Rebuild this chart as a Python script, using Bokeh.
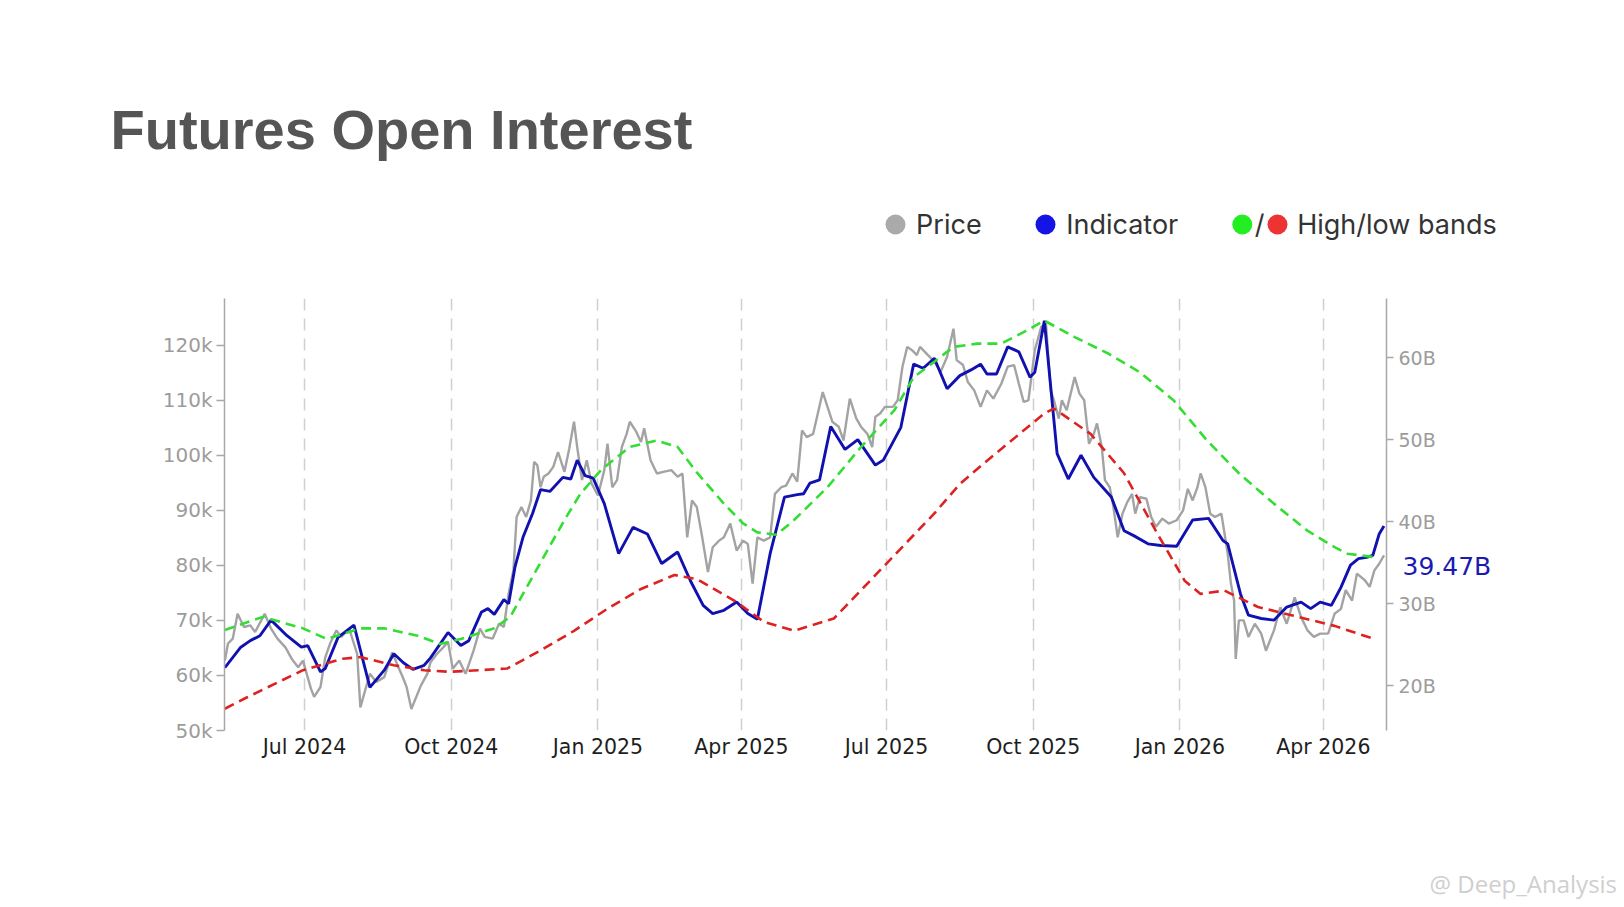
import pandas as pd
from bokeh.plotting import figure
from bokeh.layouts import column, row
from bokeh.models import (ColumnDataSource, Range1d, LinearAxis, FixedTicker,
                          DatetimeTickFormatter, CustomJSTickFormatter)
from bokeh.core.properties import value
from bokeh.embed import file_html
from bokeh.resources import INLINE

# ---------------- data ----------------
price_dates = [
    "2024-05-12","2024-05-14","2024-05-17","2024-05-20","2024-05-24","2024-05-28","2024-05-31","2024-06-06","2024-06-10","2024-06-14",
    "2024-06-19","2024-06-23","2024-06-27","2024-06-30","2024-07-05","2024-07-07","2024-07-11","2024-07-14","2024-07-17","2024-07-21",
    "2024-07-24","2024-07-29","2024-08-03","2024-08-05","2024-08-08","2024-08-11","2024-08-15","2024-08-20","2024-08-25","2024-08-28",
    "2024-09-01","2024-09-03","2024-09-06","2024-09-12","2024-09-16","2024-09-18","2024-09-22","2024-09-26","2024-09-29","2024-10-02",
    "2024-10-06","2024-10-10","2024-10-15","2024-10-19","2024-10-22","2024-10-27","2024-10-31","2024-11-03","2024-11-06","2024-11-09",
    "2024-11-11","2024-11-14","2024-11-17","2024-11-20","2024-11-22","2024-11-24","2024-11-26","2024-11-28","2024-12-01","2024-12-04",
    "2024-12-07","2024-12-11","2024-12-14","2024-12-17","2024-12-19","2024-12-22","2024-12-25","2024-12-28","2025-01-01","2025-01-05",
    "2025-01-07","2025-01-10","2025-01-13","2025-01-16","2025-01-19","2025-01-21","2025-01-25","2025-01-28","2025-01-30","2025-02-03",
    "2025-02-07","2025-02-11","2025-02-16","2025-02-20","2025-02-23","2025-02-26","2025-03-01","2025-03-04","2025-03-07","2025-03-11",
    "2025-03-14","2025-03-18","2025-03-21","2025-03-25","2025-03-29","2025-04-02","2025-04-05","2025-04-08","2025-04-11","2025-04-15",
    "2025-04-19","2025-04-22","2025-04-26","2025-04-29","2025-05-03","2025-05-06","2025-05-09","2025-05-12","2025-05-16","2025-05-22",
    "2025-05-25","2025-05-28","2025-06-01","2025-06-04","2025-06-08","2025-06-12","2025-06-15","2025-06-19","2025-06-22","2025-06-24",
    "2025-06-27","2025-06-30","2025-07-05","2025-07-08","2025-07-11","2025-07-14","2025-07-17","2025-07-20","2025-07-22","2025-07-27",
    "2025-07-31","2025-08-04","2025-08-08","2025-08-12","2025-08-14","2025-08-18","2025-08-21","2025-08-25","2025-08-29","2025-09-02",
    "2025-09-06","2025-09-11","2025-09-15","2025-09-19","2025-09-22","2025-09-25","2025-09-28","2025-10-02","2025-10-06","2025-10-09",
    "2025-10-12","2025-10-14","2025-10-17","2025-10-19","2025-10-22","2025-10-27","2025-10-30","2025-11-02","2025-11-05","2025-11-08",
    "2025-11-10","2025-11-13","2025-11-15","2025-11-18","2025-11-20","2025-11-23","2025-11-26","2025-11-29","2025-12-02","2025-12-04",
    "2025-12-07","2025-12-11","2025-12-14","2025-12-17","2025-12-21","2025-12-25","2025-12-30","2026-01-03","2026-01-06","2026-01-09",
    "2026-01-12","2026-01-14","2026-01-17","2026-01-20","2026-01-23","2026-01-27","2026-01-29","2026-01-31","2026-02-02","2026-02-04",
    "2026-02-05","2026-02-07","2026-02-10","2026-02-13","2026-02-17","2026-02-21","2026-02-24","2026-03-01","2026-03-05","2026-03-09",
    "2026-03-14","2026-03-18","2026-03-22","2026-03-26","2026-03-30","2026-04-04","2026-04-08","2026-04-12","2026-04-15","2026-04-19",
    "2026-04-22","2026-04-27","2026-04-30","2026-05-03","2026-05-06","2026-05-09"]
price_k = [
    62.7, 65.8, 66.7, 71.2, 68.8, 69.1, 67.9, 71.2, 68.5, 66.7,
    65.1, 63.0, 61.5, 62.7, 57.6, 56.1, 57.9, 63.3, 65.8, 68.2,
    67.0, 68.5, 63.9, 54.2, 57.3, 60.3, 58.8, 59.7, 64.2, 62.1,
    59.4, 57.9, 53.9, 58.2, 60.3, 62.4, 63.9, 65.1, 66.1, 61.2,
    62.7, 60.3, 64.5, 68.5, 67.0, 66.7, 69.4, 68.8, 74.9, 79.1,
    88.8, 90.6, 88.8, 91.8, 98.8, 98.2, 94.2, 96.1, 96.7, 97.9,
    100.6, 97.0, 101.2, 106.1, 101.5, 95.5, 99.1, 94.9, 92.7, 97.3,
    102.1, 94.2, 95.5, 101.5, 103.9, 106.1, 104.3, 102.4, 104.9, 99.1,
    96.7, 97.0, 97.3, 96.1, 96.7, 85.1, 91.8, 90.6, 85.8, 78.8,
    83.3, 84.5, 85.1, 87.6, 82.7, 84.5, 83.9, 76.7, 85.1, 84.5,
    85.1, 93.0, 94.2, 94.5, 96.7, 95.2, 104.5, 103.3, 103.9, 111.5,
    108.8, 106.1, 105.2, 102.7, 110.3, 106.7, 105.2, 103.9, 101.5, 107.0,
    107.6, 108.8, 108.8, 110.0, 116.1, 119.7, 119.1, 118.2, 119.7, 118.2,
    117.0, 115.2, 117.9, 123.0, 117.3, 116.4, 113.3, 111.8, 108.8, 111.8,
    110.3, 113.0, 116.1, 116.4, 113.0, 109.7, 110.0, 119.1, 123.3, 123.9,
    111.8, 110.0, 106.7, 110.0, 108.2, 114.2, 111.2, 110.0, 102.1, 103.9,
    105.8, 101.5, 95.5, 94.2, 91.2, 85.1, 89.4, 91.5, 93.0, 89.4,
    92.4, 92.1, 88.8, 87.0, 88.5, 87.6, 88.2, 90.0, 93.9, 91.8,
    94.2, 96.7, 94.2, 89.4, 88.8, 89.4, 85.8, 82.1, 76.7, 73.6,
    63.0, 70.0, 70.0, 67.0, 69.4, 67.6, 64.5, 68.2, 72.4, 69.4,
    74.2, 70.6, 68.2, 67.0, 67.6, 67.6, 71.2, 72.1, 75.5, 73.6,
    78.5, 77.3, 76.1, 79.1, 80.3, 81.8]

indicator_dates = [
    "2024-05-12","2024-05-22","2024-05-28","2024-06-03","2024-06-10","2024-06-20","2024-06-29","2024-07-03","2024-07-11","2024-07-14",
    "2024-07-22","2024-08-01","2024-08-11","2024-08-20","2024-08-26","2024-09-01","2024-09-07","2024-09-14","2024-09-18","2024-09-29",
    "2024-10-07","2024-10-12","2024-10-20","2024-10-24","2024-10-28","2024-11-03","2024-11-06","2024-11-10","2024-11-15","2024-11-21",
    "2024-11-26","2024-12-02","2024-12-10","2024-12-15","2024-12-19","2024-12-24","2024-12-29","2025-01-05","2025-01-14","2025-01-23",
    "2025-02-01","2025-02-10","2025-02-20","2025-02-28","2025-03-08","2025-03-14","2025-03-21","2025-03-29","2025-04-05","2025-04-11",
    "2025-04-19","2025-04-28","2025-05-06","2025-05-10","2025-05-14","2025-05-20","2025-05-27","2025-06-05","2025-06-13","2025-06-24",
    "2025-06-29","2025-07-10","2025-07-18","2025-07-24","2025-07-31","2025-08-08","2025-08-16","2025-08-23","2025-08-29","2025-09-02",
    "2025-09-08","2025-09-15","2025-09-22","2025-09-29","2025-10-02","2025-10-08","2025-10-16","2025-10-23","2025-10-31","2025-11-08",
    "2025-11-19","2025-11-27","2025-12-03","2025-12-12","2025-12-20","2025-12-30","2026-01-09","2026-01-19","2026-01-28","2026-01-31",
    "2026-02-08","2026-02-13","2026-02-21","2026-03-01","2026-03-09","2026-03-18","2026-03-24","2026-03-30","2026-04-06","2026-04-12",
    "2026-04-18","2026-04-23","2026-04-29","2026-05-02","2026-05-06","2026-05-09"]
indicator_b = [
    22.2, 24.7, 25.5, 26.1, 28.0, 26.1, 24.7, 24.9, 21.7, 22.1,
    25.9, 27.4, 19.8, 21.9, 23.9, 22.8, 22.0, 22.5, 23.4, 26.5,
    24.9, 25.5, 29.0, 29.4, 28.7, 30.5, 30.0, 34.5, 38.1, 41.0,
    43.9, 43.7, 45.4, 45.2, 47.5, 45.6, 45.3, 42.2, 36.1, 39.3,
    38.5, 34.9, 36.3, 32.8, 29.8, 28.8, 29.2, 30.2, 28.8, 28.1,
    36.1, 43.0, 43.3, 43.4, 44.7, 45.1, 51.6, 48.8, 50.0, 46.9,
    47.5, 51.5, 59.2, 58.7, 59.9, 56.2, 57.8, 58.5, 59.2, 58.0,
    58.0, 61.3, 60.7, 57.6, 58.2, 64.5, 48.3, 45.2, 48.1, 45.4,
    43.0, 38.9, 38.3, 37.3, 37.1, 37.0, 40.2, 40.4, 37.7, 37.3,
    31.2, 28.6, 28.2, 28.0, 29.6, 30.2, 29.4, 30.2, 29.8, 32.0,
    34.7, 35.5, 35.7, 35.9, 38.5, 39.47]

high_band_dates = [
    "2024-05-12","2024-06-05","2024-06-30","2024-07-15","2024-08-05","2024-08-20","2024-09-10","2024-09-24","2024-10-07","2024-10-28",
    "2024-11-07","2024-11-15","2024-11-28","2024-12-11","2024-12-21","2025-01-03","2025-01-21","2025-02-07","2025-02-20","2025-03-04",
    "2025-03-21","2025-04-02","2025-04-11","2025-04-23","2025-05-04","2025-05-25","2025-06-15","2025-07-06","2025-07-18","2025-07-31",
    "2025-08-12","2025-08-27","2025-09-11","2025-09-25","2025-10-08","2025-10-27","2025-11-17","2025-12-07","2025-12-28","2026-01-18",
    "2026-02-07","2026-03-01","2026-03-22","2026-04-08","2026-04-16","2026-05-02"]
high_band_b = [
    26.8, 28.4, 27.0, 25.7, 27.0, 27.0, 26.1, 25.1, 25.7, 27.0,
    28.4, 31.2, 35.7, 40.2, 43.4, 46.3, 49.1, 49.9, 49.1, 46.0,
    42.2, 39.8, 38.7, 38.4, 40.2, 44.2, 49.1, 53.6, 57.6, 59.5,
    61.3, 61.7, 61.7, 63.1, 64.5, 62.5, 60.5, 58.2, 54.8, 49.9,
    45.9, 42.2, 38.9, 36.9, 36.1, 35.7]

low_band_dates = [
    "2024-05-12","2024-05-26","2024-06-30","2024-07-25","2024-08-05","2024-08-26","2024-09-14","2024-09-30","2024-11-05","2024-11-26",
    "2024-12-17","2025-01-07","2025-01-28","2025-02-18","2025-03-04","2025-03-29","2025-04-15","2025-05-04","2025-05-29","2025-07-01",
    "2025-07-31","2025-08-16","2025-08-31","2025-10-08","2025-10-14","2025-11-06","2025-11-27","2025-12-18","2026-01-04","2026-01-14",
    "2026-01-29","2026-02-19","2026-03-12","2026-04-08","2026-05-03"]
low_band_b = [
    17.2, 18.6, 21.9, 23.3, 23.5, 22.5, 21.9, 21.7, 22.1, 24.3,
    26.7, 29.4, 31.8, 33.5, 33.0, 30.2, 27.8, 26.7, 28.2, 34.9,
    41.0, 44.6, 47.1, 53.2, 53.8, 50.7, 45.9, 38.5, 32.8, 31.2,
    31.6, 29.6, 28.6, 27.3, 25.7]

quarter_ticks = ["2024-07-01", "2024-10-01", "2025-01-01", "2025-04-01",
                 "2025-07-01", "2025-10-01", "2026-01-01", "2026-04-01"]
price_ticks = [50, 60, 70, 80, 90, 100, 110, 120]
oi_ticks = [20, 30, 40, 50, 60]

title_text = "Futures Open Interest"
legend_names = ["Price", "Indicator", "/", "High/low bands"]
legend_colors = ["#aaaaaa", "#1414e6", "#22ee22", "#ee3333"]
watermark = "@ Deep_Analysis"

# ---------------- layout sizes ----------------
FW = 1620
HEAD_H, MAIN_H, FOOT_H = 250, 520, 134
RIGHT_BORDER = 52
MAIN_W = 1386 + RIGHT_BORDER
SIDE_W = FW - MAIN_W
SIDE_SHIFT = 38   # pull the value label back over the right axis column


def ms(d):
    return pd.Timestamp(d).value / 1e6


def blank(width, height, xr, yr, **kw):
    f = figure(width=width, height=height, x_range=xr, y_range=yr,
               output_backend="svg", toolbar_location=None,
               x_axis_location=None, y_axis_location=None, min_border=0, **kw)
    f.grid.visible = False
    f.outline_line_color = None
    f.background_fill_color = "white"
    f.border_fill_color = "white"
    return f


# ---------------- header: title + legend ----------------
head = blank(FW, HEAD_H, Range1d(0, FW), Range1d(HEAD_H, 0))
head.text(x=[110], y=[129], text=[title_text], text_font=value("Liberation Sans"),
          text_font_style="bold", text_font_size="56px", text_color="#555555",
          text_align="left", text_baseline="middle")
LY = 224
head.scatter(x=[895, 1045, 1241.8, 1277], y=[LY] * 4, size=20,
             fill_color=legend_colors, line_color=None, marker="circle")
head.text(x=[915.6, 1065.7, 1296.7], y=[LY] * 3,
          text=[legend_names[0], legend_names[1], legend_names[3]],
          text_font=value("Inter"), text_font_size="27px", text_color="#333333",
          text_align="left", text_baseline="middle")
head.text(x=[1259], y=[LY], text=[legend_names[2]], text_font=value("Inter"),
          text_font_size="27px", text_color="#333333",
          text_align="center", text_baseline="middle")

# ---------------- main chart ----------------
p = figure(width=MAIN_W, height=MAIN_H, x_axis_type="datetime",
           output_backend="svg", toolbar_location=None,
           x_range=Range1d(pd.Timestamp("2024-05-11 19:00"), pd.Timestamp("2026-05-10 14:00")),
           y_range=Range1d(50, 128.49),
           min_border_left=224, min_border_right=RIGHT_BORDER,
           min_border_top=48, min_border_bottom=40)
p.extra_y_ranges = {"oi": Range1d(14.55, 67.2)}
p.outline_line_color = None
p.background_fill_color = "white"
p.border_fill_alpha = 0

xa = p.xaxis[0]
xa.ticker = FixedTicker(ticks=[ms(d) for d in quarter_ticks])
xa.formatter = DatetimeTickFormatter(days="%b %Y", months="%b %Y", years="%b %Y")
xa.axis_line_color = None
xa.major_tick_line_color = None
xa.minor_tick_line_color = None
xa.major_tick_out = 0
xa.major_tick_in = 0
xa.major_label_standoff = 4
xa.major_label_text_font = "DejaVu Sans"
xa.major_label_text_font_size = "20.5px"
xa.major_label_text_color = "#1e1e1e"

ya = p.yaxis[0]
ya.ticker = FixedTicker(ticks=price_ticks)
ya.formatter = CustomJSTickFormatter(code="return tick.toFixed(0) + 'k';")
ya.axis_line_color = "#a8a8a8"
ya.axis_line_width = 1.5
ya.major_tick_line_color = "#a8a8a8"
ya.major_tick_line_width = 1.5
ya.major_tick_out = 8
ya.major_tick_in = 0
ya.minor_tick_line_color = None
ya.major_label_standoff = 4
ya.major_label_text_font = "DejaVu Sans"
ya.major_label_text_font_size = "20px"
ya.major_label_text_color = "#9c9c9c"

ra = LinearAxis(y_range_name="oi", ticker=FixedTicker(ticks=oi_ticks),
                formatter=CustomJSTickFormatter(code="return tick.toFixed(0) + 'B';"))
ra.axis_line_color = "#a8a8a8"
ra.axis_line_width = 1.5
ra.major_tick_line_color = "#a8a8a8"
ra.major_tick_line_width = 1.5
ra.major_tick_out = 7
ra.major_tick_in = 0
ra.minor_tick_line_color = None
ra.major_label_standoff = 5
ra.major_label_text_font = "DejaVu Sans"
ra.major_label_text_font_size = "19px"
ra.major_label_text_color = "#9c9c9c"
p.add_layout(ra, "right")

p.xgrid.ticker = xa.ticker
p.xgrid.grid_line_color = "#cfcfcf"
p.xgrid.grid_line_dash = "12 8"
p.xgrid.grid_line_width = 1.5
p.ygrid.grid_line_color = None

src_price = ColumnDataSource(dict(x=pd.to_datetime(price_dates), y=price_k))
src_ind = ColumnDataSource(dict(x=pd.to_datetime(indicator_dates), y=indicator_b))
src_hi = ColumnDataSource(dict(x=pd.to_datetime(high_band_dates), y=high_band_b))
src_lo = ColumnDataSource(dict(x=pd.to_datetime(low_band_dates), y=low_band_b))

p.line("x", "y", source=src_price, line_color="#a3a3a3", line_width=2.4)
p.line("x", "y", source=src_ind, y_range_name="oi", line_color="#1111b0", line_width=2.9)
p.line("x", "y", source=src_hi, y_range_name="oi", line_color="#33dd33",
       line_width=2.6, line_dash="10 6")
p.line("x", "y", source=src_lo, y_range_name="oi", line_color="#dd2222",
       line_width=2.6, line_dash="10 6")

# ---------------- side panel: latest indicator value ----------------
side = blank(SIDE_W, MAIN_H, Range1d(0, SIDE_W), Range1d(14.55, 67.2),
             min_border_top=48, min_border_bottom=40,
             margin=(0, 0, 0, -SIDE_SHIFT))
side.background_fill_alpha = 0
side.border_fill_alpha = 0
side.text(x=[2], y=[34.55], text=[f"{indicator_b[-1]:.2f}B"],
          text_font=value("DejaVu Sans"), text_font_size="25px", text_color="#1b1bb0",
          text_align="left", text_baseline="middle")

# ---------------- footer: watermark ----------------
foot = blank(FW, FOOT_H, Range1d(0, FW), Range1d(FOOT_H, 0))
foot.text(x=[1429], y=[113], text=[watermark], text_font=value("Open Sans"),
          text_font_size="24px", text_color="#cfcfcf",
          text_align="left", text_baseline="middle")

page = column(head, row(p, side), foot)
open("out.html", "w").write(file_html(page, INLINE))
